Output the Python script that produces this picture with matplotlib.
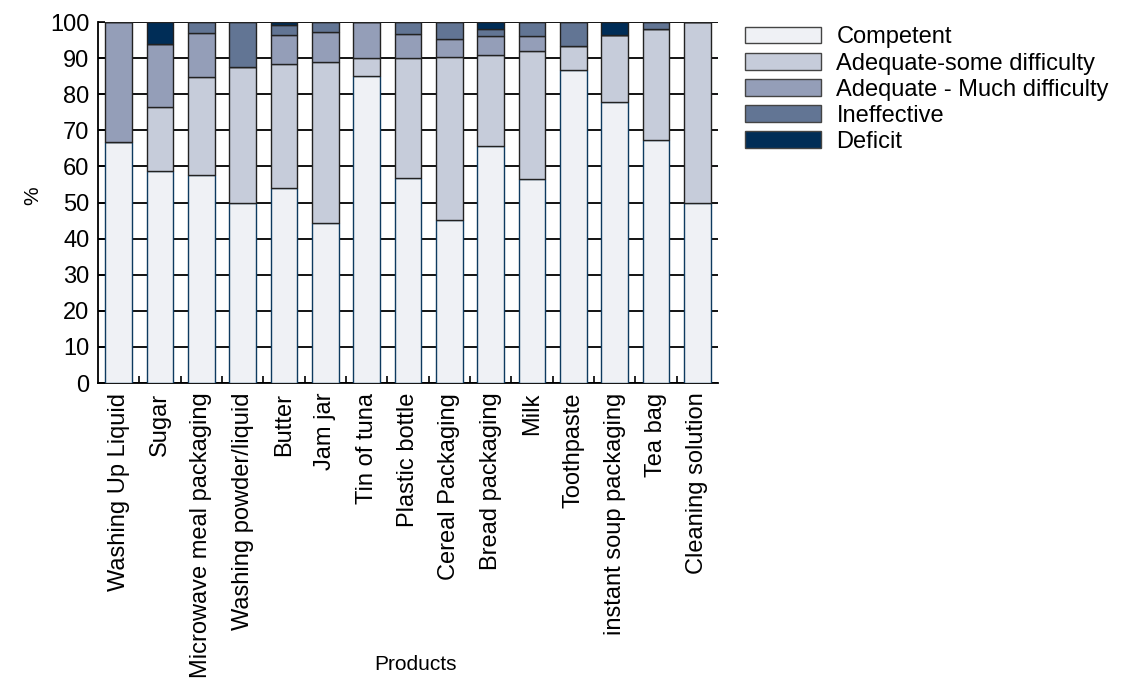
import numpy as np
import matplotlib
matplotlib.use("Agg")
import matplotlib.pyplot as plt

plt.rcParams["font.family"] = ["Liberation Sans", "DejaVu Sans"]

PRODUCTS = [
    "Washing Up Liquid", "Sugar", "Microwave meal packaging",
    "Washing powder/liquid", "Butter", "Jam jar", "Tin of tuna",
    "Plastic bottle", "Cereal Packaging", "Bread packaging", "Milk",
    "Toothpaste", "instant soup packaging", "Tea bag", "Cleaning solution",
]

# percentage of participants per rating, one list per rating
competent = [66.7, 58.8, 57.6, 50.0, 54.0, 44.4, 85.0, 56.7, 45.2, 65.6, 56.5, 86.7, 77.8, 67.3, 50.0]
some_difficulty = [0.0, 17.6, 27.3, 37.5, 34.3, 44.4, 5.0, 33.3, 45.2, 25.4, 35.5, 6.7, 18.5, 30.7, 50.0]
much_difficulty = [33.3, 17.6, 12.1, 0.0, 8.1, 8.4, 10.0, 6.7, 4.8, 5.1, 4.0, 0.0, 0.0, 0.0, 0.0]
ineffective = [0.0, 0.0, 3.0, 12.5, 2.8, 2.8, 0.0, 3.3, 4.8, 1.9, 4.0, 6.6, 0.0, 2.0, 0.0]
deficit = [0.0, 6.0, 0.0, 0.0, 0.8, 0.0, 0.0, 0.0, 0.0, 2.0, 0.0, 0.0, 3.7, 0.0, 0.0]

SERIES = [
    ("Competent", competent, "#eff1f5", "#0e3a5f"),
    ("Adequate-some difficulty", some_difficulty, "#c6ccda", "#222222"),
    ("Adequate - Much difficulty", much_difficulty, "#949eb8", "#222222"),
    ("Ineffective", ineffective, "#627594", "#222222"),
    ("Deficit", deficit, "#002d57", "#222222"),
]

fig = plt.figure(figsize=(11.22, 6.82), dpi=100)
ax = fig.add_axes([0.0873, 0.4384, 0.5526, 0.5293])

x = np.arange(len(PRODUCTS))
bottom = np.zeros(len(PRODUCTS))
handles = []
for label, vals, face, edge in SERIES:
    vals = np.array(vals)
    bars = ax.bar(x, vals, width=0.65, bottom=bottom, color=face,
                  edgecolor=edge, linewidth=1.0, zorder=3, label=label)
    handles.append(bars)
    bottom += vals

ax.set_xlim(-0.5, len(PRODUCTS) - 0.5)
ax.set_ylim(0, 100)
ax.set_yticks(np.arange(0, 101, 10))
ax.yaxis.grid(True, color="black", linewidth=1.3, zorder=0)
ax.set_axisbelow(True)

ax.set_xticks(x)
ax.set_xticklabels(PRODUCTS, rotation=90, fontsize=17)
ax.tick_params(axis="x", length=0, pad=7)
ax.set_xticks(x[:-1] + 0.5, minor=True)
ax.tick_params(axis="x", which="minor", direction="in", length=5, width=1.2)
ax.tick_params(axis="y", direction="in", length=5, width=1.2, labelsize=17, pad=6)

for side in ("top", "right"):
    ax.spines[side].set_visible(False)
ax.spines["left"].set_linewidth(1.3)
ax.spines["bottom"].set_linewidth(1.3)

ax.set_ylabel("%", fontsize=15)
ax.yaxis.set_label_coords(-0.09, 0.52)
fig.text(0.37, 0.018, "Products", fontsize=15, ha="center")

leg = fig.legend(handles=handles, loc="upper left", bbox_to_anchor=(0.656, 0.975),
                 frameon=False, fontsize=17, handlelength=3.2, handleheight=0.7,
                 handletextpad=0.65, labelspacing=0.17, borderaxespad=0)
for patch in leg.get_patches():
    patch.set_edgecolor("#444444")

fig.savefig("out.png", dpi=100)
